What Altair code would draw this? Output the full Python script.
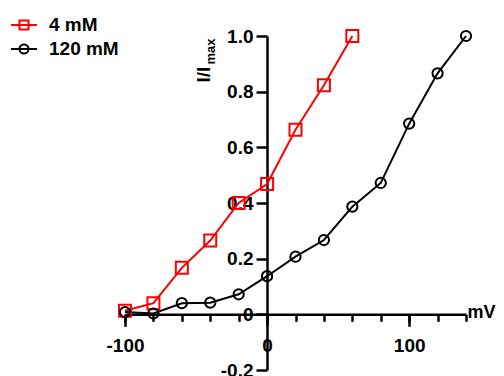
import altair as alt
import pandas as pd

# ---- data ----
series = ["4 mM", "120 mM"]
mv_4 = [-100, -80, -60, -40, -20, 0, 20, 40, 60]
i_4 = [0.013, 0.04, 0.167, 0.265, 0.40, 0.468, 0.663, 0.823, 1.0]
mv_120 = [-100, -80, -60, -40, -20, 0, 20, 40, 60, 80, 100, 120, 140]
i_120 = [0.008, 0.003, 0.04, 0.042, 0.072, 0.137, 0.207, 0.267, 0.387, 0.472, 0.685, 0.866, 1.0]
x_minor_ticks = [-100, -80, -60, -40, -20, 0, 20, 40, 60, 80, 100, 120, 140]
x_major_ticks = [-100, 0, 100]
y_ticks = [-0.2, 0, 0.2, 0.4, 0.6, 0.8, 1.0]

df = pd.concat([
    pd.DataFrame({"mV": mv_4, "I": i_4, "conc": series[0]}),
    pd.DataFrame({"mV": mv_120, "I": i_120, "conc": series[1]}),
], ignore_index=True)

FONT = "Liberation Sans"
FS = 19

xs = alt.Scale(domain=[-100, 140], nice=False, zero=False)
ys = alt.Scale(domain=[-0.2, 1.0], nice=False, zero=False)
cs = alt.Scale(domain=series, range=["#ff0000", "#000000"])

minus_expr_y = ("datum.value == 0 ? '0' : (datum.value < 0 ? '-' + format(-datum.value, '.1f') "
                ": format(datum.value, '.1f'))")
minus_expr_x = ("datum.value < 0 ? '-' + format(-datum.value, 'd') : format(datum.value, 'd')")

X_OFF = -55.7
Y_OFF = -142

x_minor = alt.Axis(orient="bottom", values=x_minor_ticks, labels=False, tickSize=7, tickWidth=2.5,
                   tickColor="black", domainColor="black", domainWidth=2.5, offset=X_OFF,
                   title=None, grid=False)
x_major = alt.Axis(orient="bottom", values=x_major_ticks, tickSize=12, tickWidth=2.5, tickColor="black",
                   domain=False, offset=X_OFF, grid=False, labelExpr=minus_expr_x,
                   labelFont=FONT, labelFontSize=FS, labelFontWeight="bold", labelColor="black",
                   labelPadding=10, labelFlush=False, labelOverlap=False,
                   title="mV", titleFont=FONT, titleFontSize=18, titleFontWeight="bold",
                   titleColor="black", titleX=342, titleY=-2, titleAlign="left",
                   titleBaseline="middle", titleAngle=0)
y_main = alt.Axis(orient="left", values=y_ticks, tickSize=11, tickWidth=2.5, tickColor="black",
                  domainColor="black", domainWidth=2.5, offset=Y_OFF, grid=False,
                  labelExpr=minus_expr_y, labelFont=FONT, labelFontSize=FS, labelFontWeight="bold",
                  labelColor="black", labelPadding=3, labelOverlap=False, labelFlush=False,
                  title="I/I", titleFont=FONT, titleFontSize=FS, titleFontWeight="bold",
                  titleColor="black", titleAngle=270, titleX=-58, titleY=46, titleAlign="left",
                  titleBaseline="alphabetic")
y_sub = alt.Axis(orient="left", ticks=False, labels=False, domain=False, offset=Y_OFF, grid=False,
                 title="max", titleFont=FONT, titleFontSize=13, titleFontWeight="bold",
                 titleColor="black", titleAngle=270, titleX=-53, titleY=28, titleAlign="left",
                 titleBaseline="alphabetic")

sq_path = "M-1,0H1M-0.35,-0.35H0.35V0.35H-0.35Z"
ci_path = "M-1,0H1M-0.35,0A0.35,0.35 0 1,0 0.35,0A0.35,0.35 0 1,0 -0.35,0"

legend = alt.Legend(title=None, orient="none", legendX=-115, legendY=-25, direction="vertical",
                    symbolSize=676, symbolStrokeWidth=2, symbolFillColor="transparent",
                    symbolOpacity=1,
                    labelFont=FONT, labelFontSize=FS, labelFontWeight="bold", labelColor="black",
                    labelOffset=11, rowPadding=-2, padding=0)

color_enc = alt.Color("conc:N", scale=cs, legend=legend)

base = alt.Chart(df)

lines = base.mark_line(strokeWidth=2).encode(
    x=alt.X("mV:Q", scale=xs, axis=x_minor),
    y=alt.Y("I:Q", scale=ys, axis=y_main),
    color=color_enc,
    detail="conc:N",
)

squares = base.transform_filter(alt.datum.conc == series[0]).mark_point(
    shape="square", size=144, filled=False, strokeWidth=2, opacity=1
).encode(
    x=alt.X("mV:Q", scale=xs, axis=x_major),
    y=alt.Y("I:Q", scale=ys, axis=y_sub),
    color=color_enc,
)

circles = base.transform_filter(alt.datum.conc == series[1]).mark_point(
    shape="circle", size=105, filled=False, strokeWidth=2, opacity=1
).encode(
    x=alt.X("mV:Q", scale=xs, axis=None),
    y=alt.Y("I:Q", scale=ys, axis=None),
    color=color_enc,
)

legend_layer = base.transform_filter("false").mark_point(filled=False, strokeWidth=2, opacity=1).encode(
    x=alt.X("mV:Q", scale=xs, axis=None),
    y=alt.Y("I:Q", scale=ys, axis=None),
    color=color_enc,
    shape=alt.Shape("conc:N", scale=alt.Scale(domain=series, range=[sq_path, ci_path]), legend=legend),
)

chart = alt.layer(lines, squares, circles, legend_layer).resolve_axis(
    x="independent", y="independent"
).properties(
    width=341, height=334,
    padding={"left": 117, "top": 28, "right": 30, "bottom": 6},
    autosize=alt.AutoSizeParams(type="none"),
).configure_view(stroke=None)

chart.save("out.html", embed_options={"renderer": "svg", "actions": False})
